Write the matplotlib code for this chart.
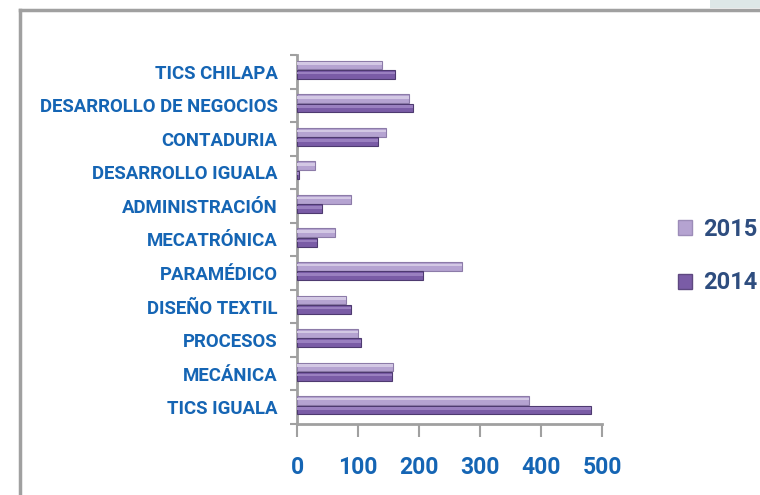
import numpy as np
import matplotlib
matplotlib.use('Agg')
from matplotlib import pyplot as plt
from matplotlib.patches import Patch
from matplotlib.lines import Line2D

# categorias de abajo hacia arriba
carreras = ['TICS IGUALA', 'MECÁNICA', 'PROCESOS', 'DISEÑO TEXTIL', 'PARAMÉDICO',
            'MECATRÓNICA', 'ADMINISTRACIÓN', 'DESARROLLO IGUALA', 'CONTADURIA',
            'DESARROLLO DE NEGOCIOS', 'TICS CHILAPA']
v2015 = [380, 158, 100, 80, 270, 62, 88, 30, 146, 184, 139]
v2014 = [482, 155, 105, 88, 207, 33, 41, 3, 133, 190, 161]
xticks = [0, 100, 200, 300, 400, 500]

azul = '#1565B4'
c15 = '#B5A3D1'
c14 = '#7A5CA6'

plt.rcParams['font.family'] = ['Roboto', 'DejaVu Sans']

fig = plt.figure(figsize=(7.6, 4.95), dpi=100)
ax = fig.add_axes([297 / 760, 1 - 424 / 495, 305 / 760, 369 / 495])

y = np.arange(len(carreras))
h = 0.26
ax.barh(y + 0.2, v2015, height=h, color=c15, edgecolor='#8C7BA8', linewidth=0.8, zorder=3)
ax.barh(y - 0.08, v2014, height=h, color=c14, edgecolor='#4E3A70', linewidth=0.8, zorder=3)
# brillo superior de las barras
ax.barh(y + 0.24, v2015, height=h * 0.3, color='#D3C8E4', linewidth=0, zorder=4)
ax.barh(y - 0.04, v2014, height=h * 0.3, color='#9A80C0', linewidth=0, zorder=4)

ax.set_xlim(0, 500)
ax.set_ylim(-0.5, len(carreras) - 0.5)
ax.set_xticks(xticks)
ax.set_xticklabels([str(t) for t in xticks], fontsize=16.5, fontweight='bold', color=azul)
ax.set_yticks(y)
ax.set_yticklabels(carreras, fontsize=13.4, fontweight='bold', color=azul)
ax.set_yticks(np.arange(len(carreras) + 1) - 0.5, minor=True)
ax.tick_params(axis='y', which='major', length=0, pad=14)
ax.tick_params(axis='y', which='minor', length=5, width=1.5, color='#A0A0A0')
ax.tick_params(axis='x', length=9, width=1.5, color='#A0A0A0', pad=14)

for s in ['top', 'right']:
    ax.spines[s].set_visible(False)
for s in ['left', 'bottom']:
    ax.spines[s].set_color('#A0A0A0')
    ax.spines[s].set_linewidth(2)

handles = [Patch(facecolor=c15, edgecolor='#9C8CB8'), Patch(facecolor=c14, edgecolor='#5E4880')]
leg = fig.legend(handles, ['2015', '2014'], loc='center left', bbox_to_anchor=(678 / 760, 1 - 256 / 495),
                 frameon=False, borderpad=0, borderaxespad=0,
                 handlelength=0.6, handleheight=0.6, handletextpad=0.45,
                 labelspacing=1.3, prop={'size': 17, 'weight': 'bold'})
for t in leg.get_texts():
    t.set_color('#2E4D7F')

# marco del grafico
fig.add_artist(Line2D([20 / 760, 20 / 760], [0, 1 - 10 / 495], transform=fig.transFigure,
                      color='#A0A0A0', linewidth=2.5))
fig.add_artist(Line2D([20 / 760, 1], [1 - 10 / 495, 1 - 10 / 495], transform=fig.transFigure,
                      color='#A0A0A0', linewidth=2.5))
fig.add_artist(plt.Rectangle((710 / 760, 1 - 8 / 495), 50 / 760, 8 / 495, transform=fig.transFigure,
                             color='#DDE7E7', linewidth=0))

fig.savefig('out.png', dpi=100)
